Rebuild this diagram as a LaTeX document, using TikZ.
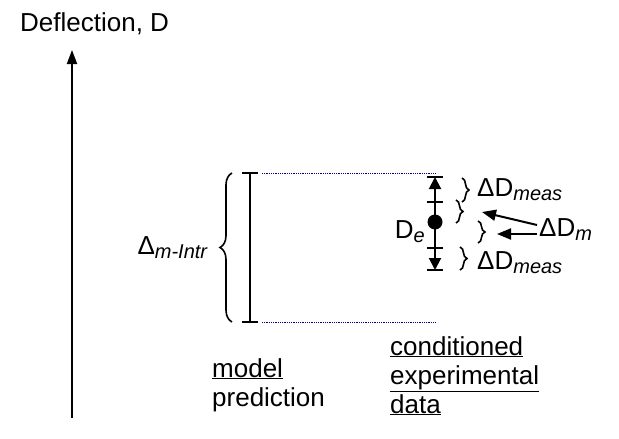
\documentclass[tikz,border=0pt]{standalone}
\usepackage{fontspec}
\setmainfont{Liberation Sans}
\usetikzlibrary{decorations.pathreplacing,arrows.meta}
\newcommand{\sbx}[1]{\raisebox{-4pt}{\textit{\fontsize{20}{22}\selectfont #1}}}
\begin{document}
\begin{tikzpicture}[x=1pt,y=-1pt,
 br/.style={decorate,decoration={brace,amplitude=7pt},line width=1.6pt},
 lab/.style={font=\fontsize{26}{29}\selectfont,inner sep=0pt},
 tk/.style={line width=2pt},
 dot/.style={densely dotted,draw=blue!50!black,line width=0.8pt}]
\useasboundingbox (0,0) rectangle (619,439);
\coordinate (ab) at (72,418); \coordinate (at) at (72,50);
\draw[line width=2pt,-{Triangle[length=14pt,width=10pt]}] (ab) -- (at);
\node[lab,anchor=west] (dl) at (20,24) {Deflection, D};
% model bar
\coordinate (mt) at (250,173); \coordinate (mb) at (250,322);
\draw[tk] (mt) -- (mb);
\draw[tk] ([xshift=-8]mt) -- ([xshift=8]mt);
\draw[tk] ([xshift=-8]mb) -- ([xshift=8]mb);
\coordinate (dt) at (435,173); \coordinate (db) at (435,322);
\draw[dot] ([xshift=12]mt) -- (dt);
\draw[dot] ([xshift=12]mb) -- (db);
\draw[br,decoration={brace,amplitude=12pt}] (232,322) -- (232,173);
\node[lab,anchor=east] (mi) at (208,248) {Δ\sbx{m-Intr}};
% data
\coordinate (e1) at (435,177); \coordinate (e2) at (435,202);
\coordinate (e3) at (435,248); \coordinate (e4) at (435,270);
\draw[tk] (e2) -- (e3);
\draw[tk,-{Triangle[length=12pt,width=12pt]}] (e2) -- (e1);
\draw[tk,-{Triangle[length=12pt,width=12pt]}] (e3) -- (e4);
\foreach \p in {e1,e2,e3,e4} \draw[tk] ([xshift=-8]\p) -- ([xshift=8]\p);
\node[circle,fill,inner sep=0pt,minimum size=15pt] (de) at (435,222) {};
\node[lab,anchor=east] (del) at (425,232) {D\sbx{e}};
\draw[br] (462,178) -- (462,202);
\draw[br] (456,200) -- (456,223);
\draw[br] (478,221) -- (478,243);
\draw[br] (460,247) -- (460,270);
\node[lab,anchor=west] (m1) at (477,190) {ΔD\sbx{meas}};
\node[lab,anchor=west] (m2) at (477,263) {ΔD\sbx{meas}};
\node[lab,anchor=west] (dm) at (539,230) {ΔD\sbx{m}};
\coordinate (a1) at (482,212); \coordinate (a2) at (497,234);
\draw[line width=2pt,-{Triangle[length=14pt,width=11pt]}] (537,225) -- (a1);
\draw[line width=2pt,-{Triangle[length=14pt,width=11pt]}] (537,234) -- (a2);
\node[lab,anchor=north west,align=left] (mp) at (212,358) {\underline{model}\\prediction};
\node[lab,anchor=north west,align=left] (cd) at (390,336) {\underline{conditioned}\\\underline{experimental}\\\underline{data}};
\end{tikzpicture}
\end{document}
